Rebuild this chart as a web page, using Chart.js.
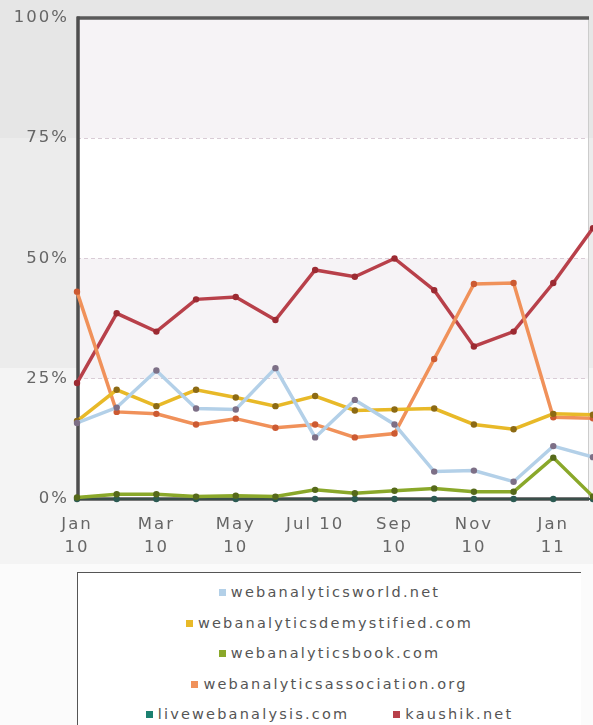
<!DOCTYPE html>
<html>
<head>
<meta charset="utf-8">
<script src="https://cdn.jsdelivr.net/npm/chart.js@4.4.1/dist/chart.umd.min.js"></script>
<style>
  html, body { margin: 0; padding: 0; width: 593px; height: 725px; overflow: hidden; }
  body {
    font-family: "DejaVu Sans", sans-serif;
    background: linear-gradient(#e6e6e6 0, #e6e6e6 138px, #ececec 138px, #ececec 368px,
                                #f4f4f4 368px, #f4f4f4 564px, #fbfbfb 564px);
  }
  #wrap { position: absolute; left: 0; top: 0; width: 593px; height: 570px; }
  #legend {
    position: absolute; left: 77px; top: 572px; width: 504px; height: 200px;
    border: 1px solid #555; border-right: none; background: #fff;
    box-sizing: border-box; padding: 4px 8px 0;
    display: flex; flex-wrap: wrap; justify-content: center; align-content: flex-start;
  }
  .item { margin: 0 22px; height: 30.6px; line-height: 30.6px; font-size: 14.5px; letter-spacing: 2.2px; color: #555; white-space: nowrap; }
  .item i { display: inline-block; width: 7px; height: 7px; margin-right: 5px; vertical-align: 1px; }
</style>
</head>
<body>
<div id="wrap"><canvas id="chart"></canvas></div>
<div id="legend"></div>
<script>
// monthly share, Jan 10 .. Feb 11 (last point falls just past the right edge)
var months = ['Jan 10','Feb 10','Mar 10','Apr 10','May 10','Jun 10','Jul 10','Aug 10','Sep 10','Oct 10','Nov 10','Dec 10','Jan 11','Feb 11'];
var xTickLabels = [['Jan','10'], ['Mar','10'], ['May','10'], ['Jul 10'], ['Sep','10'], ['Nov','10'], ['Jan','11']];
var yTicks = [0, 25, 50, 75, 100];

var names = ['webanalyticsworld.net', 'webanalyticsdemystified.com', 'webanalyticsbook.com',
             'webanalyticsassociation.org', 'livewebanalysis.com', 'kaushik.net'];

var worldNet    = [15.8, 19.0, 26.7, 18.8, 18.6, 27.2, 12.8, 20.6, 15.5, 5.7, 5.9, 3.6, 11.0, 8.7];
var demystified = [16.2, 22.7, 19.3, 22.7, 21.1, 19.3, 21.4, 18.4, 18.6, 18.8, 15.5, 14.5, 17.7, 17.5];
var book        = [0.3, 1.0, 1.0, 0.5, 0.7, 0.5, 1.9, 1.2, 1.7, 2.2, 1.5, 1.5, 8.6, 0.5];
var association = [43.1, 18.1, 17.7, 15.5, 16.7, 14.8, 15.5, 12.8, 13.6, 29.1, 44.7, 44.9, 17.0, 16.8];
var live        = [0, 0, 0, 0, 0, 0, 0, 0, 0, 0, 0, 0, 0, 0];
var kaushik     = [24.1, 38.6, 34.8, 41.5, 42.0, 37.2, 47.6, 46.2, 50.0, 43.4, 31.7, 34.8, 44.9, 56.3];

var series = [worldNet, demystified, book, association, live, kaushik];
var legendColors = ['#b3d0e8', '#e8b928', '#8aa82a', '#f0915a', '#1b8070', '#b8404a'];
var lineColors   = ['#b3d0e8', '#e8b928', '#8aa82a', '#f0915a', '#3a4f4a', '#b8404a'];
var pointColors  = ['#7d6f86', '#8c6a14', '#56691a', '#cc5a32', '#2c5a52', '#9c2a32'];

// html legend
var legend = document.getElementById('legend');
names.forEach(function (n, i) {
  var d = document.createElement('div');
  d.className = 'item';
  d.innerHTML = '<i style="background:' + legendColors[i] + '"></i>' + n;
  legend.appendChild(d);
});

var spacing = {
  id: 'spacing',
  beforeLayout: function (chart) { chart.ctx.letterSpacing = '2px'; },
  beforeDraw: function (chart) { chart.ctx.letterSpacing = '2px'; }
};

var bands = {
  id: 'bands',
  beforeDraw: function (chart) {
    var ctx = chart.ctx, a = chart.chartArea, y = chart.scales.y;
    ctx.save();
    ctx.fillStyle = '#ffffff';
    ctx.fillRect(a.left, a.top, a.right - a.left, a.bottom - a.top);
    ctx.fillStyle = '#f6f3f6';
    [[75, 100], [25, 50]].forEach(function (b) {
      var t = y.getPixelForValue(b[1]), btm = y.getPixelForValue(b[0]);
      ctx.fillRect(a.left, t, a.right - a.left, btm - t);
    });
    ctx.restore();
  },
  beforeDatasetsDraw: function (chart) {
    var ctx = chart.ctx, a = chart.chartArea;
    ctx.save();
    ctx.strokeStyle = '#cccccc'; ctx.lineWidth = 1;
    ctx.beginPath(); ctx.moveTo(a.right - 0.5, a.top); ctx.lineTo(a.right - 0.5, a.bottom); ctx.stroke();
    ctx.strokeStyle = '#5a5a5a'; ctx.lineWidth = 3.5;
    ctx.beginPath(); ctx.moveTo(a.left, a.top); ctx.lineTo(a.right, a.top); ctx.stroke();
    ctx.strokeStyle = '#4e4e4e'; ctx.lineWidth = 3.5;
    ctx.beginPath(); ctx.moveTo(a.left + 1, a.top - 1.5); ctx.lineTo(a.left + 1, a.bottom + 1.5); ctx.stroke();
    ctx.beginPath(); ctx.moveTo(a.left, a.bottom); ctx.lineTo(a.right, a.bottom); ctx.stroke();
    ctx.restore();
  }
};

var datasets = series.map(function (vals, i) {
  return {
    label: names[i],
    data: vals.map(function (v, k) { return { x: k, y: v }; }),
    borderColor: lineColors[i],
    borderWidth: i === 4 ? 2 : 3.5,
    pointBackgroundColor: pointColors[i],
    pointBorderColor: pointColors[i],
    pointRadius: 3.2,
    pointBorderWidth: 0,
    tension: 0,
    clip: false
  };
});

new Chart(document.getElementById('chart'), {
  type: 'line',
  data: { datasets: datasets },
  options: {
    responsive: true,
    maintainAspectRatio: false,
    animation: false,
    layout: { padding: { top: 16, right: 0, left: 0, bottom: 0 } },
    plugins: { legend: { display: false }, tooltip: { enabled: false } },
    scales: {
      x: {
        type: 'linear',
        min: 0,
        max: 12.9,
        afterFit: function (s) { s.height = 71; },
        grid: { display: false },
        border: { display: false },
        ticks: {
          stepSize: 2,
          includeBounds: false,
          autoSkip: false,
          maxRotation: 0,
          padding: 6,
          color: '#666',
          font: { family: 'DejaVu Sans', size: 16.5, lineHeight: 1.4 },
          callback: function (v) { return (v % 2 === 0) ? xTickLabels[v / 2] : ''; }
        }
      },
      y: {
        min: 0,
        max: 100,
        afterFit: function (s) { s.width = 77; },
        afterBuildTicks: function (s) { s.ticks = yTicks.map(function (v) { return { value: v }; }); },
        border: { display: false, dash: [4, 3] },
        grid: {
          drawTicks: false,
          lineWidth: 1,
          color: function (c) { return (c.tick && c.tick.value > 0 && c.tick.value < 100) ? '#d9ccd6' : 'rgba(0,0,0,0)'; }
        },
        ticks: {
          padding: 8,
          color: '#666',
          font: { family: 'DejaVu Sans', size: 16.5 },
          callback: function (v) { return v + '%'; }
        }
      }
    }
  },
  plugins: [spacing, bands]
});
</script>
</body>
</html>
